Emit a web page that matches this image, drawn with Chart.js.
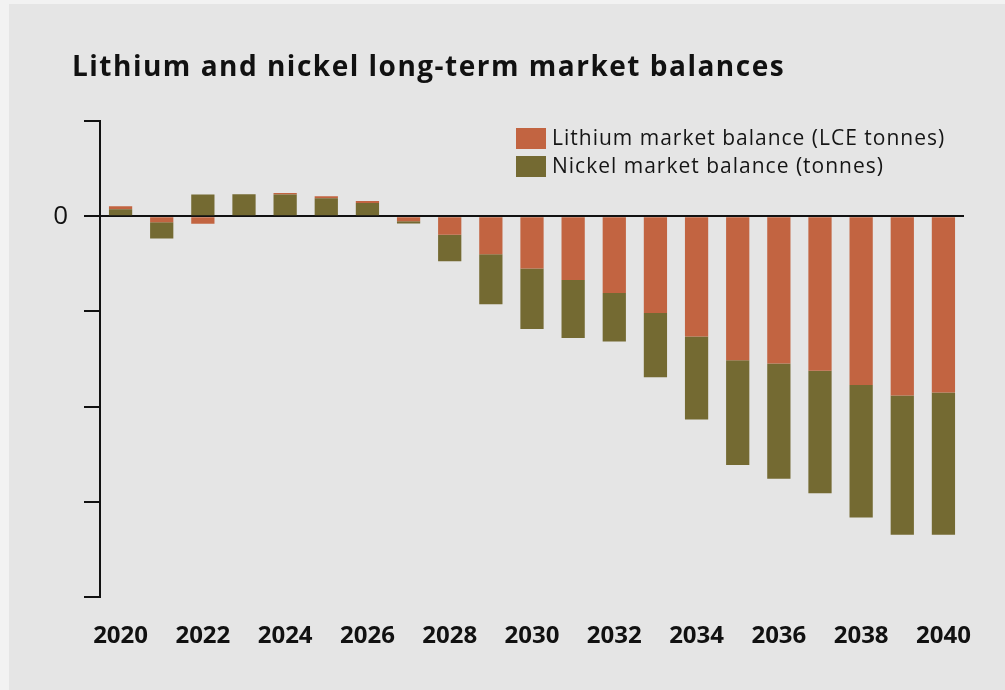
<!DOCTYPE html>
<html>
<head>
<meta charset="utf-8">
<script src="https://cdn.jsdelivr.net/npm/chart.js@4.4.1/dist/chart.umd.min.js"></script>
<style>
  html, body { margin: 0; padding: 0; background: #f2f2f2; }
  #panel { position: absolute; left: 9px; top: 4px; right: 0; bottom: 0; background: #e5e5e5; }
  #wrap { position: absolute; left: 0; top: 0; width: 1005px; height: 690px; }
  #title { position: absolute; left: 72px; top: 46px; margin: 0;
           font: bold 28px "Open Sans", "Noto Sans", sans-serif; letter-spacing: 1.5px; color: #111; }
</style>
</head>
<body>
<div id="panel"></div>
<div id="wrap"><canvas id="balanceChart"></canvas></div>
<h1 id="title">Lithium and nickel long-term market balances</h1>
<script>
// values, one y-axis step = 100 units
var years = ['2020', '2021', '2022', '2023', '2024', '2025', '2026', '2027', '2028', '2029', '2030',
             '2031', '2032', '2033', '2034', '2035', '2036', '2037', '2038', '2039', '2040'];
var lithium = [3.1, -6.3, -8, 0, 1.7, 2.1, 2.1, -5.2, -19.5, -40, -55,
               -66.9, -80.5, -101.7, -126.4, -151.2, -154.7, -162.3, -177.3, -188.1, -185];
var nickel = [7.3, -17, 22.7, 23, 22.7, 19, 14, -2.4, -27.8, -52.3, -63.3,
              -61, -50.9, -67.3, -87, -110, -120.9, -128.5, -139, -146.3, -149.4];
var yTicks = [100, 0, -100, -200, -300, -400];

const LITHIUM_COLOR = '#c26441';
const NICKEL_COLOR = '#746a32';
const FONT = '"Open Sans", "Noto Sans", sans-serif';

// lithium sits next to zero when negative, on top of nickel when positive
var lithiumNeg = lithium.map(function(v) { return Math.min(v, 0); });
var lithiumPos = lithium.map(function(v) { return Math.max(v, 0); });

// legend drawn inside the plot, top right, two rows
var insideLegend = {
  id: 'insideLegend',
  afterDraw: function(chart) {
    var ctx = chart.ctx;
    var area = chart.chartArea;
    var items = [
      { text: 'Lithium market balance (LCE tonnes)', color: LITHIUM_COLOR },
      { text: 'Nickel market balance (tonnes)', color: NICKEL_COLOR }
    ];
    var x = area.right - 448;
    var y = area.top + 7;
    ctx.save();
    ctx.font = '500 21px ' + FONT;
    ctx.letterSpacing = '1px';
    ctx.textBaseline = 'middle';
    items.forEach(function(item, i) {
      var top = y + i * 28;
      ctx.fillStyle = item.color;
      ctx.fillRect(x, top, 30, 21);
      ctx.fillStyle = '#151515';
      ctx.fillText(item.text, x + 36, top + 11);
    });
    ctx.restore();
  }
};

var ctx = document.getElementById('balanceChart');
var myChart = new Chart(ctx, {
  type: 'bar',
  data: {
    labels: years,
    datasets: [{
      label: 'Lithium market balance (LCE tonnes)',
      data: lithiumNeg,
      backgroundColor: LITHIUM_COLOR
    }, {
      label: 'Nickel market balance (tonnes)',
      data: nickel,
      backgroundColor: NICKEL_COLOR
    }, {
      label: 'lithium (positive part)',
      data: lithiumPos,
      backgroundColor: LITHIUM_COLOR
    }]
  },
  plugins: [insideLegend],
  options: {
    responsive: true,
    maintainAspectRatio: false,
    animation: false,
    layout: {
      padding: { left: 40, right: 41, bottom: 14, top: 121 }
    },
    datasets: {
      bar: {
        categoryPercentage: 1,
        barPercentage: 0.565,
        borderWidth: 0
      }
    },
    plugins: {
      legend: { display: false },
      tooltip: { enabled: false },
      title: { display: false }
    },
    scales: {
      x: {
        stacked: true,
        border: { display: false },
        grid: { display: false, drawTicks: false },
        ticks: {
          autoSkip: false,
          maxRotation: 0,
          padding: 25,
          color: '#111',
          font: { family: FONT, size: 24, weight: 'bold' },
          callback: function(value, index) {
            return index % 2 === 0 ? years[index] : '';
          }
        }
      },
      y: {
        stacked: true,
        min: -400,
        max: 100,
        afterBuildTicks: function(axis) {
          axis.ticks = yTicks.map(function(v) { return { value: v }; });
        },
        afterFit: function(axis) {
          axis.width = 60;
        },
        border: { display: true, color: '#111', width: 2 },
        grid: {
          drawOnChartArea: true,
          drawTicks: true,
          tickLength: 16,
          lineWidth: 2,
          tickColor: '#111',
          color: function(c) {
            return c.tick && c.tick.value === 0 ? '#111' : 'rgba(0,0,0,0)';
          }
        },
        ticks: {
          padding: 16,
          color: '#111',
          font: { family: FONT, size: 26, weight: '500' },
          callback: function(value) {
            return value === 0 ? '0' : '';
          }
        }
      }
    }
  }
});
</script>
</body>
</html>
